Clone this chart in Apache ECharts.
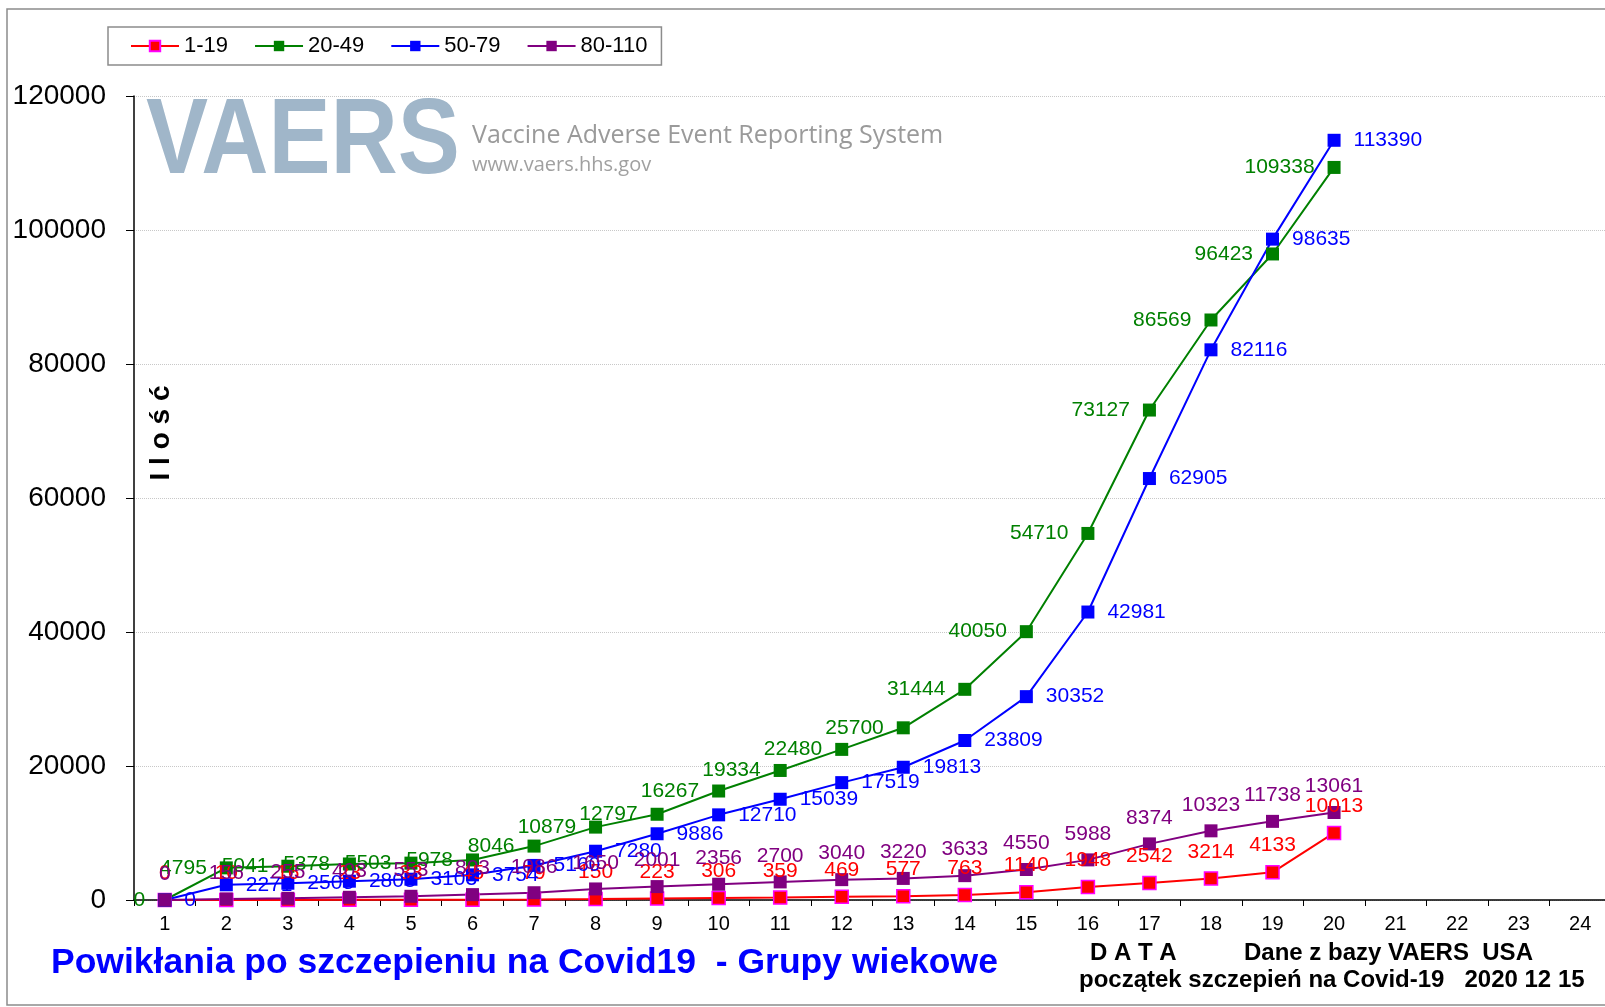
<!DOCTYPE html>
<html>
<head>
<meta charset="utf-8">
<script src="https://cdn.jsdelivr.net/npm/echarts@6/dist/echarts.min.js"></script>
<style>
  html, body { margin: 0; padding: 0; background: #fff; }
  #chart { width: 1605px; height: 1007px; }
</style>
</head>
<body>
<div id="chart"></div>
<script>
// dni od początku szczepień (oś X)
const days = ['1','2','3','4','5','6','7','8','9','10','11','12','13','14','15','16','17','18','19','20','21','22','23','24'];
// grupy wiekowe
const age1to19 = [0, 10, 16, 23, 33, 45, 79, 150, 223, 306, 359, 469, 577, 763, 1140, 1948, 2542, 3214, 4133, 10013];
const age20to49 = [0, 4795, 5041, 5378, 5503, 5978, 8046, 10879, 12797, 16267, 19334, 22480, 25700, 31444, 40050, 54710, 73127, 86569, 96423, 109338];
const age50to79 = [0, 2271, 2505, 2808, 3103, 3754, 5160, 7280, 9886, 12710, 15039, 17519, 19813, 23809, 30352, 42981, 62905, 82116, 98635, 113390];
const age80to110 = [0, 156, 255, 403, 553, 803, 1086, 1650, 2001, 2356, 2700, 3040, 3220, 3633, 4550, 5988, 8374, 10323, 11738, 13061];
const yTicks = { min: 0, max: 120000, step: 20000 };

const FONT = 'Liberation Sans, Arial, sans-serif';

function lineSeries(name, data, color, labelPos, borderColor) {
  return {
    name: name,
    type: 'line',
    data: data,
    symbol: 'rect',
    symbolSize: 13,
    lineStyle: { color: color, width: 2 },
    itemStyle: {
      color: color,
      borderColor: borderColor || color,
      borderWidth: borderColor ? 1.5 : 0
    },
    label: {
      show: true,
      position: labelPos,
      distance: labelPos === 'top' ? 9 : 13,
      color: color,
      fontSize: 21,
      fontFamily: FONT
    },
    emphasis: { disabled: true },
    animation: false
  };
}

let option = {
  backgroundColor: '#fff',
  animation: false,
  legend: {
    left: 108,
    top: 27,
    padding: [8, 14, 8, 22],
    borderColor: '#8c8c8c',
    borderWidth: 1.5,
    borderRadius: 0,
    itemWidth: 48,
    itemHeight: 13,
    itemGap: 26,
    textStyle: { fontSize: 22, color: '#000', fontFamily: FONT },
    data: ['1-19', '20-49', '50-79', '80-110']
  },
  grid: {
    left: 134,
    top: 96,
    width: 1477,
    height: 804,
    containLabel: false,
    outerBoundsMode: 'none'
  },
  xAxis: {
    type: 'category',
    data: days,
    boundaryGap: true,
    axisLine: { lineStyle: { color: '#000', width: 1.5 } },
    axisTick: { show: true, length: 6, lineStyle: { color: '#000' } },
    axisLabel: { fontSize: 20, color: '#000', fontFamily: FONT, margin: 14 },
    splitLine: { show: false }
  },
  yAxis: {
    type: 'value',
    min: yTicks.min,
    max: yTicks.max,
    interval: yTicks.step,
    axisLine: { show: true, lineStyle: { color: '#000', width: 1.5 } },
    axisTick: { show: true, length: 8, lineStyle: { color: '#000' } },
    axisLabel: {
      fontSize: 28, color: '#000', fontFamily: FONT, margin: 28,
      formatter: function (v) { return String(v); }
    },
    splitLine: { show: true, lineStyle: { color: '#c8c8c8', type: 'dotted', width: 1 } }
  },
  graphic: [
    // ramka wykresu
    { type: 'rect', shape: { x: 7, y: 9, width: 1620, height: 996 }, style: { fill: 'none', stroke: '#8c8c8c', lineWidth: 1.5 }, z: -10 },
    // logo VAERS
    { type: 'text', x: 146, y: 143, scaleX: 0.87, originX: 0, z: -5,
      style: { text: 'VAERS', font: 'bold 107px Liberation Sans, Arial', fill: '#a0b6c9', textVerticalAlign: 'middle' } },
    { type: 'text', x: 472, y: 136, z: -5,
      style: { text: 'Vaccine Adverse Event Reporting System', font: '25px Open Sans, sans-serif', fill: '#9a9a9a', textVerticalAlign: 'middle' } },
    { type: 'text', x: 472, y: 165, z: -5,
      style: { text: 'www.vaers.hhs.gov', font: '20px Open Sans, sans-serif', fill: '#a0a0a0', textVerticalAlign: 'middle' } },
    // nazwa osi Y
    { type: 'text', x: 161, y: 433, rotation: Math.PI / 2,
      style: { text: 'I l o ś ć', font: 'bold 28px Liberation Sans, Arial', fill: '#000', textAlign: 'center', textVerticalAlign: 'middle' } },
    // podpisy na dole
    { type: 'text', x: 51, y: 963,
      style: { text: 'Powikłania po szczepieniu na Covid19  - Grupy wiekowe', font: 'bold 35.5px Liberation Sans, Arial', fill: '#0000ff', textVerticalAlign: 'middle' } },
    { type: 'text', x: 1090, y: 953,
      style: { text: 'D A T A', font: 'bold 24px Liberation Sans, Arial', fill: '#000', textVerticalAlign: 'middle' } },
    { type: 'text', x: 1244, y: 953,
      style: { text: 'Dane z bazy VAERS  USA', font: 'bold 24px Liberation Sans, Arial', fill: '#000', textVerticalAlign: 'middle' } },
    { type: 'text', x: 1079, y: 980,
      style: { text: 'początek szczepień na Covid-19   2020 12 15', font: 'bold 24px Liberation Sans, Arial', fill: '#000', textVerticalAlign: 'middle' } }
  ],
  series: [
    lineSeries('1-19', age1to19, '#ff0000', 'top', '#ff00ff'),
    lineSeries('20-49', age20to49, '#008000', 'left'),
    lineSeries('50-79', age50to79, '#0000ff', 'right'),
    lineSeries('80-110', age80to110, '#800080', 'top')
  ]
};

let myChart = echarts.init(document.getElementById('chart'));
myChart.setOption(option);
</script>
</body>
</html>
